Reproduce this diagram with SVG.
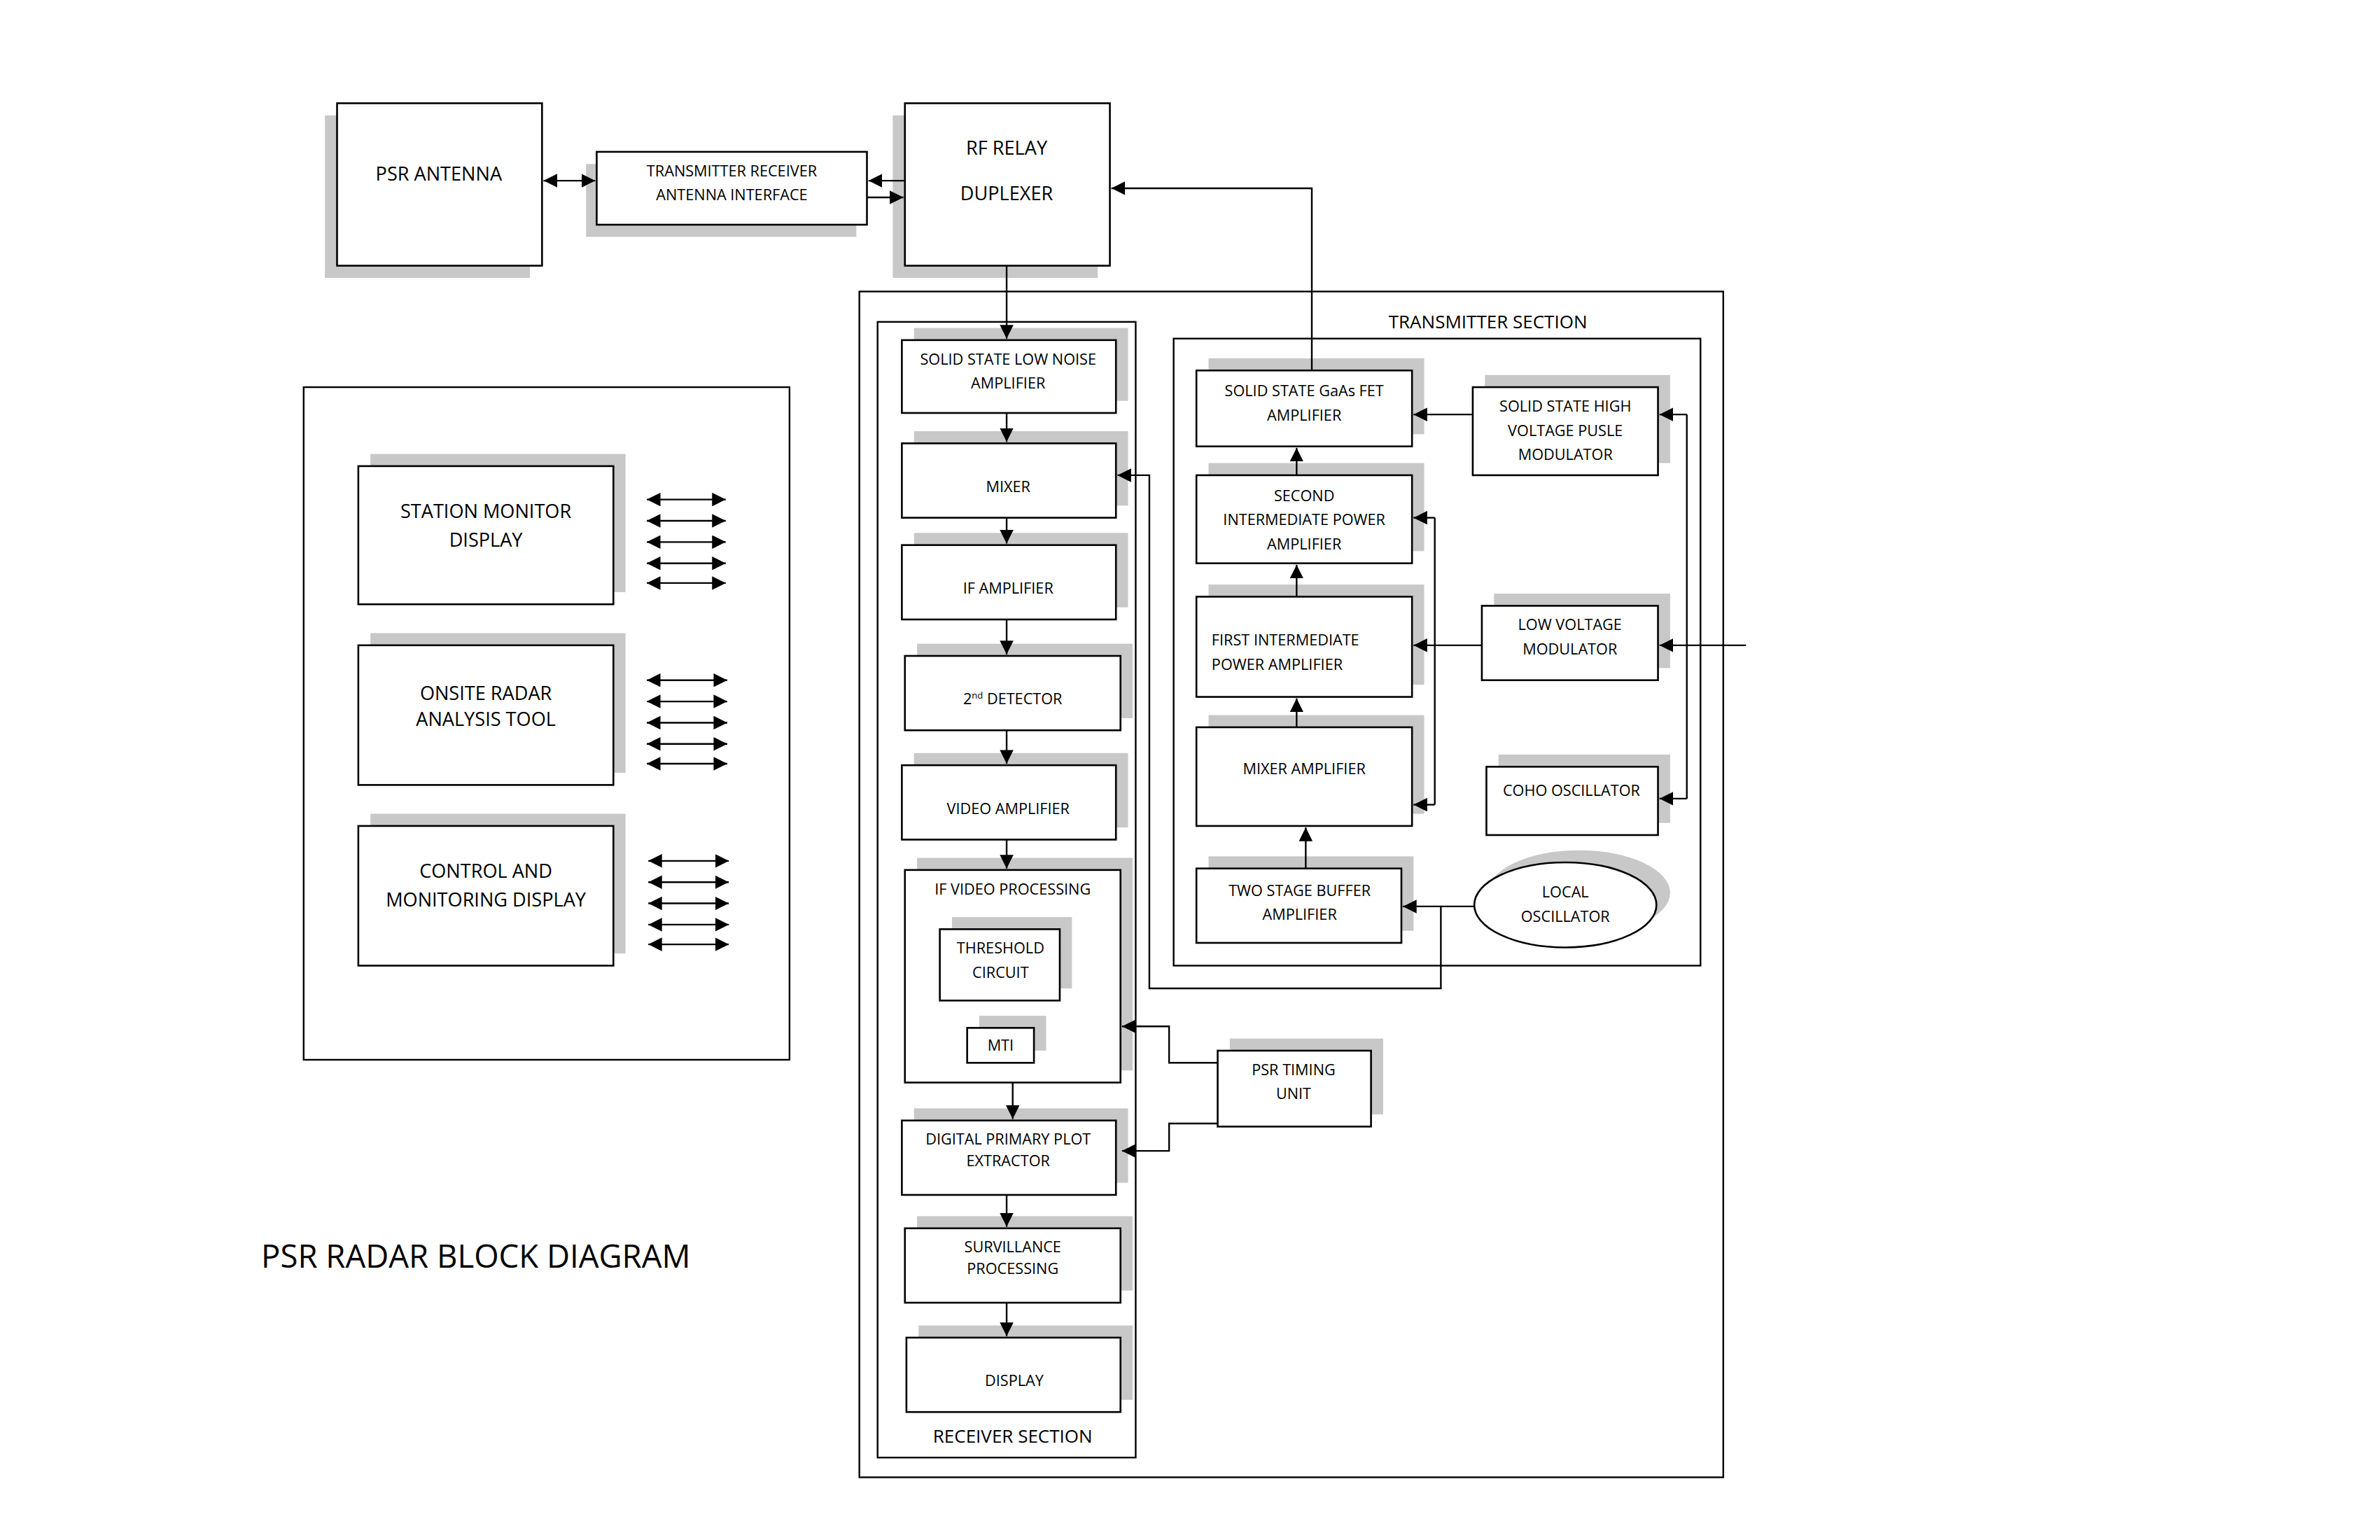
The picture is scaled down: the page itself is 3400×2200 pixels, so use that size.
<svg xmlns="http://www.w3.org/2000/svg" width="3400" height="2200" viewBox="0 0 3400 2200">
<style>
.b{fill:#fff;stroke:#000;stroke-width:1.2}
.s{fill:#c8c8c8}
.f{fill:none;stroke:#000;stroke-width:1.1}
.c{fill:none;stroke:#000;stroke-width:1.1}
.t{font-family:"Open Sans","Liberation Sans",sans-serif;font-size:10px;text-anchor:middle;fill:#000}
.m{font-family:"Open Sans","Liberation Sans",sans-serif;font-size:12.5px;text-anchor:middle;fill:#000}
</style>
<defs>
<marker id="a" markerUnits="userSpaceOnUse" markerWidth="9" markerHeight="9" viewBox="0 0 8 8" refX="8" refY="4" orient="auto-start-reverse"><path d="M0,0L8,4L0,8z" fill="#000"/></marker>
</defs>
<rect width="3400" height="2200" fill="#fff"/>
<g transform="scale(2.169)">
<g id="frames">
<rect class="f" x="200" y="255" width="320" height="443"/>
<rect class="f" x="566" y="192" width="569" height="781"/>
<rect class="f" x="578" y="212" width="170" height="748"/>
<rect class="f" x="773" y="223" width="347" height="413"/>
<text class="m" x="980" y="216" style="font-size:12px">TRANSMITTER SECTION</text>
<text class="m" x="667" y="950" style="font-size:12px">RECEIVER SECTION</text>
<text x="172" y="835" style="font-family:'Open Sans','Liberation Sans',sans-serif;font-size:21px">PSR RADAR BLOCK DIAGRAM</text>
</g>
<g id="antenna"><rect class="s" x="214" y="76" width="135" height="107"/><rect class="b" x="222" y="68" width="135" height="107"/><text class="m" x="289" y="119">PSR ANTENNA</text></g>
<g id="trai"><rect class="s" x="386" y="108" width="178" height="48"/><rect class="b" x="393" y="100" width="178" height="48"/><text class="t" x="482" y="116">TRANSMITTER RECEIVER</text><text class="t" x="482" y="132">ANTENNA INTERFACE</text></g>
<g id="relay"><rect class="s" x="588" y="76" width="135" height="107"/><rect class="b" x="596" y="68" width="135" height="107"/><text class="m" x="663" y="102">RF RELAY</text><text class="m" x="663" y="132">DUPLEXER</text></g>
<g id="smd"><rect class="s" x="244" y="299" width="168" height="91"/><rect class="b" x="236" y="307" width="168" height="91"/><text class="m" x="320" y="341">STATION MONITOR</text><text class="m" x="320" y="360">DISPLAY</text></g>
<g id="orat"><rect class="s" x="244" y="417" width="168" height="92"/><rect class="b" x="236" y="425" width="168" height="92"/><text class="m" x="320" y="461">ONSITE RADAR</text><text class="m" x="320" y="478">ANALYSIS TOOL</text></g>
<g id="cmd"><rect class="s" x="244" y="536" width="168" height="92"/><rect class="b" x="236" y="544" width="168" height="92"/><text class="m" x="320" y="578">CONTROL AND</text><text class="m" x="320" y="597">MONITORING DISPLAY</text></g>
<g id="lna"><rect class="s" x="602" y="216" width="141" height="48"/><rect class="b" x="594" y="224" width="141" height="48"/><text class="t" x="664" y="240">SOLID STATE LOW NOISE</text><text class="t" x="664" y="256">AMPLIFIER</text></g>
<g id="mixer"><rect class="s" x="602" y="284" width="141" height="49"/><rect class="b" x="594" y="292" width="141" height="49"/><text class="t" x="664" y="324">MIXER</text></g>
<g id="ifamp"><rect class="s" x="602" y="351" width="141" height="49"/><rect class="b" x="594" y="359" width="141" height="49"/><text class="t" x="664" y="391">IF AMPLIFIER</text></g>
<g id="det"><rect class="s" x="604" y="424" width="142" height="49"/><rect class="b" x="596" y="432" width="142" height="49"/><text class="t" x="667" y="464">2<tspan dy="-4" font-size="6">nd</tspan><tspan dy="4"> DETECTOR</tspan></text></g>
<g id="video"><rect class="s" x="602" y="496" width="141" height="49"/><rect class="b" x="594" y="504" width="141" height="49"/><text class="t" x="664" y="536">VIDEO AMPLIFIER</text></g>
<g id="ifvp"><rect class="s" x="604" y="565" width="142" height="140"/><rect class="b" x="596" y="573" width="142" height="140"/><text class="t" x="667" y="589">IF VIDEO PROCESSING</text>
<rect class="s" x="627" y="604" width="79" height="47"/><rect class="b" x="619" y="612" width="79" height="47"/><text class="t" x="659" y="628">THRESHOLD</text><text class="t" x="659" y="644">CIRCUIT</text>
<rect class="s" x="645" y="669" width="44" height="23"/><rect class="b" x="637" y="677" width="44" height="23"/><text class="t" x="659" y="692">MTI</text></g>
<g id="dppe"><rect class="s" x="602" y="730" width="141" height="49"/><rect class="b" x="594" y="738" width="141" height="49"/><text class="t" x="664" y="754">DIGITAL PRIMARY PLOT</text><text class="t" x="664" y="768">EXTRACTOR</text></g>
<g id="surv"><rect class="s" x="604" y="801" width="142" height="49"/><rect class="b" x="596" y="809" width="142" height="49"/><text class="t" x="667" y="825">SURVILLANCE</text><text class="t" x="667" y="839">PROCESSING</text></g>
<g id="display"><rect class="s" x="605" y="873" width="141" height="49"/><rect class="b" x="597" y="881" width="141" height="49"/><text class="t" x="668" y="913">DISPLAY</text></g>
<g id="timing"><rect class="s" x="810" y="684" width="101" height="50"/><rect class="b" x="802" y="692" width="101" height="50"/><text class="t" x="852" y="708">PSR TIMING</text><text class="t" x="852" y="724">UNIT</text></g>
<g id="gaas"><rect class="s" x="796" y="236" width="142" height="50"/><rect class="b" x="788" y="244" width="142" height="50"/><text class="t" x="859" y="261">SOLID STATE GaAs FET</text><text class="t" x="859" y="277">AMPLIFIER</text></g>
<g id="sipa"><rect class="s" x="796" y="305" width="142" height="58"/><rect class="b" x="788" y="313" width="142" height="58"/><text class="t" x="859" y="330">SECOND</text><text class="t" x="859" y="346">INTERMEDIATE POWER</text><text class="t" x="859" y="362">AMPLIFIER</text></g>
<g id="fipa"><rect class="s" x="796" y="385" width="142" height="66"/><rect class="b" x="788" y="393" width="142" height="66"/><text class="t" x="798" y="425" style="text-anchor:start">FIRST INTERMEDIATE</text><text class="t" x="798" y="441" style="text-anchor:start">POWER AMPLIFIER</text></g>
<g id="mixamp"><rect class="s" x="796" y="471" width="142" height="65"/><rect class="b" x="788" y="479" width="142" height="65"/><text class="t" x="859" y="510">MIXER AMPLIFIER</text></g>
<g id="buffer"><rect class="s" x="796" y="564" width="135" height="49"/><rect class="b" x="788" y="572" width="135" height="49"/><text class="t" x="856" y="590">TWO STAGE BUFFER</text><text class="t" x="856" y="606">AMPLIFIER</text></g>
<g id="hvmod"><rect class="s" x="978" y="247" width="122" height="58"/><rect class="b" x="970" y="255" width="122" height="58"/><text class="t" x="1031" y="271">SOLID STATE HIGH</text><text class="t" x="1031" y="287">VOLTAGE PUSLE</text><text class="t" x="1031" y="303">MODULATOR</text></g>
<g id="lvmod"><rect class="s" x="984" y="391" width="116" height="49"/><rect class="b" x="976" y="399" width="116" height="49"/><text class="t" x="1034" y="415">LOW VOLTAGE</text><text class="t" x="1034" y="431">MODULATOR</text></g>
<g id="coho"><rect class="s" x="987" y="497" width="113" height="45"/><rect class="b" x="979" y="505" width="113" height="45"/><text class="t" x="1035" y="524">COHO OSCILLATOR</text></g>
<g id="lo"><ellipse class="s" cx="1040" cy="588" rx="60" ry="28"/><ellipse class="b" cx="1031" cy="596" rx="60" ry="28"/><text class="t" x="1031" y="591">LOCAL</text><text class="t" x="1031" y="607">OSCILLATOR</text></g>
<g id="connectors">
<line class="c" x1="358" y1="119" x2="392" y2="119" marker-start="url(#a)" marker-end="url(#a)"/>
<line class="c" x1="596" y1="119" x2="572" y2="119" marker-end="url(#a)"/>
<line class="c" x1="571" y1="130" x2="595" y2="130" marker-end="url(#a)"/>
<line class="c" x1="663" y1="175" x2="663" y2="223" marker-end="url(#a)"/>
<polyline class="c" points="864,244 864,124 732,124" marker-end="url(#a)"/>
<line class="c" x1="663" y1="272" x2="663" y2="291" marker-end="url(#a)"/>
<line class="c" x1="663" y1="341" x2="663" y2="358" marker-end="url(#a)"/>
<line class="c" x1="663" y1="408" x2="663" y2="431" marker-end="url(#a)"/>
<line class="c" x1="663" y1="481" x2="663" y2="503" marker-end="url(#a)"/>
<line class="c" x1="663" y1="553" x2="663" y2="572" marker-end="url(#a)"/>
<line class="c" x1="667" y1="713" x2="667" y2="737" marker-end="url(#a)"/>
<line class="c" x1="663" y1="787" x2="663" y2="808" marker-end="url(#a)"/>
<line class="c" x1="663" y1="858" x2="663" y2="880" marker-end="url(#a)"/>
<polyline class="c" points="802,700 770,700 770,676 739,676" marker-end="url(#a)"/>
<polyline class="c" points="802,740 770,740 770,758 739,758" marker-end="url(#a)"/>
<line class="c" x1="854" y1="313" x2="854" y2="295" marker-end="url(#a)"/>
<line class="c" x1="854" y1="393" x2="854" y2="372" marker-end="url(#a)"/>
<line class="c" x1="854" y1="479" x2="854" y2="460" marker-end="url(#a)"/>
<line class="c" x1="860" y1="572" x2="860" y2="545" marker-end="url(#a)"/>
<line class="c" x1="970" y1="273" x2="931" y2="273" marker-end="url(#a)"/>
<line class="c" x1="976" y1="425" x2="931" y2="425" marker-end="url(#a)"/>
<line class="c" x1="971" y1="597" x2="924" y2="597" marker-end="url(#a)"/>
<polyline class="c" points="949,597 949,651 757,651 757,313 736,313" marker-end="url(#a)"/>
<line class="c" x1="945" y1="341" x2="945" y2="530"/>
<line class="c" x1="945" y1="341" x2="931" y2="341" marker-end="url(#a)"/>
<line class="c" x1="945" y1="530" x2="931" y2="530" marker-end="url(#a)"/>
<line class="c" x1="1111" y1="273" x2="1111" y2="526"/>
<line class="c" x1="1111" y1="273" x2="1093" y2="273" marker-end="url(#a)"/>
<line class="c" x1="1150" y1="425" x2="1093" y2="425" marker-end="url(#a)"/>
<line class="c" x1="1111" y1="526" x2="1093" y2="526" marker-end="url(#a)"/>
<g>
<line class="c" x1="426" y1="329" x2="478" y2="329" marker-start="url(#a)" marker-end="url(#a)"/>
<line class="c" x1="426" y1="343" x2="478" y2="343" marker-start="url(#a)" marker-end="url(#a)"/>
<line class="c" x1="426" y1="357" x2="478" y2="357" marker-start="url(#a)" marker-end="url(#a)"/>
<line class="c" x1="426" y1="371" x2="478" y2="371" marker-start="url(#a)" marker-end="url(#a)"/>
<line class="c" x1="426" y1="384" x2="478" y2="384" marker-start="url(#a)" marker-end="url(#a)"/>
<line class="c" x1="426" y1="448" x2="479" y2="448" marker-start="url(#a)" marker-end="url(#a)"/>
<line class="c" x1="426" y1="462" x2="479" y2="462" marker-start="url(#a)" marker-end="url(#a)"/>
<line class="c" x1="426" y1="476" x2="479" y2="476" marker-start="url(#a)" marker-end="url(#a)"/>
<line class="c" x1="426" y1="490" x2="479" y2="490" marker-start="url(#a)" marker-end="url(#a)"/>
<line class="c" x1="426" y1="503" x2="479" y2="503" marker-start="url(#a)" marker-end="url(#a)"/>
<line class="c" x1="427" y1="567" x2="480" y2="567" marker-start="url(#a)" marker-end="url(#a)"/>
<line class="c" x1="427" y1="581" x2="480" y2="581" marker-start="url(#a)" marker-end="url(#a)"/>
<line class="c" x1="427" y1="595" x2="480" y2="595" marker-start="url(#a)" marker-end="url(#a)"/>
<line class="c" x1="427" y1="609" x2="480" y2="609" marker-start="url(#a)" marker-end="url(#a)"/>
<line class="c" x1="427" y1="622" x2="480" y2="622" marker-start="url(#a)" marker-end="url(#a)"/>
</g>
</g>
</g>
</svg>
